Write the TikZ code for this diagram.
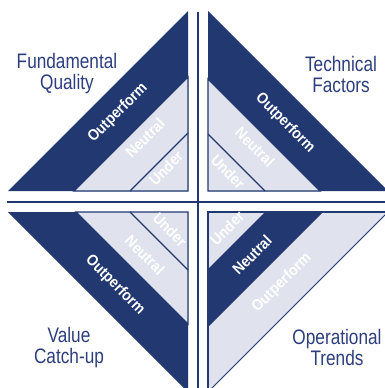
\documentclass[tikz,border=0pt]{standalone}
\usepackage{fontspec}
\newfontfamily\labfont{Liberation Sans}[FakeStretch=0.82]
\newfontfamily\bandfont{Liberation Sans}[FakeStretch=0.9]
\definecolor{navy}{RGB}{33,56,113}
\definecolor{lightg}{RGB}{224,227,238}
\definecolor{labcol}{RGB}{44,62,125}
\tikzset{
  lab/.style={text=labcol, align=center, font=\labfont\fontsize{21}{21}\selectfont, inner sep=0pt},
  band/.style={text=white, font=\bandfont\bfseries\fontsize{15.5}{16}\selectfont, inner sep=0pt},
  edge/.style={draw=navy, line width=1.3pt, line join=miter},
  sep/.style={draw=navy, line width=1.3pt},
}
\begin{document}
\begin{tikzpicture}[x=1pt,y=-1pt]
\useasboundingbox (0,0) rectangle (385,388);
\clip (0,0) rectangle (385,388);
% separators
\coordinate (vt) at (198,12);
\coordinate (vb) at (198,390);
\coordinate (hl) at (7,202);
\coordinate (hr) at (390,202);
\draw[sep] (vt) -- (vb);
\draw[sep] (hl) -- (hr);
% top-left
\begin{scope}[shift={(188,191)}]
  \fill[navy] (-180,0) -- (0,-180) -- (0,0) -- cycle;
  \filldraw[fill=lightg, edge] (-114,0) -- (0,-114) -- (0,0) -- cycle;
  \draw[navy, line width=1.1pt] (-58,0) -- (0,-58);
\end{scope}
% top-right
\begin{scope}[shift={(208,191)}, xscale=-1]
  \fill[navy] (-180,0) -- (0,-180) -- (0,0) -- cycle;
  \filldraw[fill=lightg, edge] (-112,0) -- (0,-112) -- (0,0) -- cycle;
  \draw[navy, line width=1.1pt] (-57,0) -- (0,-57);
\end{scope}
% bottom-left
\begin{scope}[shift={(188,212)}, yscale=-1]
  \fill[navy] (-180,0) -- (0,-180) -- (0,0) -- cycle;
  \filldraw[fill=lightg, edge] (-112,0) -- (0,-112) -- (0,0) -- cycle;
  \draw[navy, line width=1.1pt] (-58,0) -- (0,-58);
\end{scope}
% bottom-right
\begin{scope}[shift={(208,212)}, xscale=-1, yscale=-1]
  \filldraw[fill=lightg, draw=navy, line width=1pt] (-180,0) -- (0,-180) -- (0,0) -- cycle;
  \fill[navy] (-115,0) -- (0,-115) -- (0,-57) -- (-57,0) -- cycle;
  \draw[edge] (-180,0) -- (0,0) -- (0,-180);
\end{scope}
% labels
\node[lab] (fq) at (67,74) {Fundamental\\Quality};
\node[lab] (tf) at (341,74) {Technical\\Factors};
\node[lab] (vc) at (69,348) {Value\\Catch-up};
\node[lab] (ot) at (337,347) {Operational\\Trends};
% band texts
\node[band, rotate=45] (tlo) at (118,113) {Outperform};
\node[band, rotate=45] (tln) at (145,138) {Neutral};
\node[band, rotate=45] (tlu) at (166,168) {Under};
\node[band, rotate=-45] (tro) at (285,123) {Outperform};
\node[band, rotate=-45] (trn) at (255,147) {Neutral};
\node[band, rotate=-45] (tru) at (228,172) {Under};
\node[band, rotate=-45] (blo) at (115,285) {Outperform};
\node[band, rotate=-45] (bln) at (145,255) {Neutral};
\node[band, rotate=-45] (blu) at (170,230) {Under};
\node[band, rotate=45] (bru) at (227,228) {Under};
\node[band, rotate=45] (brn) at (252,255) {Neutral};
\node[band, rotate=45] (bro) at (282,283) {Outperform};
\end{tikzpicture}
\end{document}
